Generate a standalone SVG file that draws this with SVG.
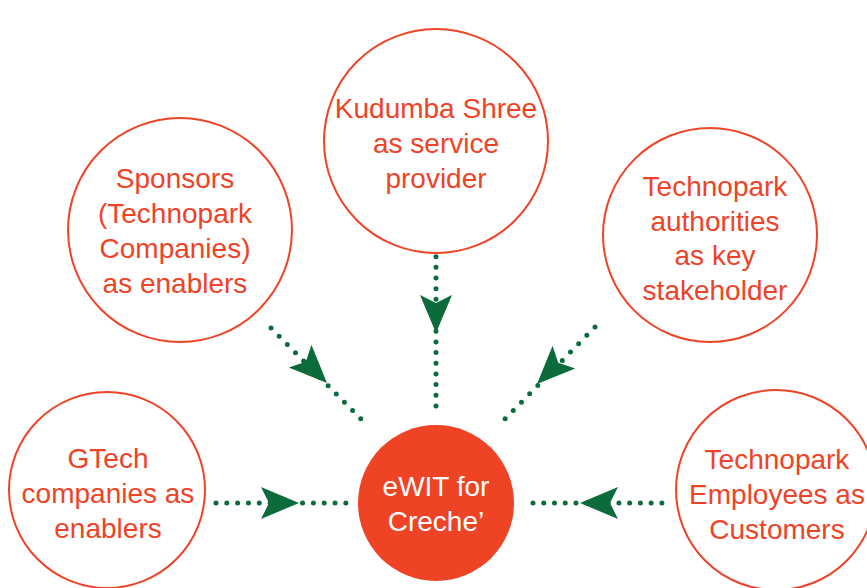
<svg xmlns="http://www.w3.org/2000/svg" width="867" height="588" viewBox="0 0 867 588">
<style>
.ring{fill:#fff;stroke:#ee4327;stroke-width:2}
.lbl{font-family:"Liberation Sans",Arial,sans-serif;font-size:28px;fill:#ee4327;text-anchor:middle}
.wl{fill:#fff}
.dots{fill:none;stroke:#0b6b3a;stroke-width:5;stroke-linecap:round}
.ah{fill:#0b6b3a}
</style>
<defs>
<path id="ah" d="M0,0 L-38,-16 L-30,0 L-38,16 Z"/>
</defs>
<rect width="867" height="588" fill="#fff"/>
<g id="connectors">
<line class="dots" x1="436" y1="246" x2="436" y2="406.5" stroke-dasharray="0 10.66"/>
<use href="#ah" class="ah" transform="translate(436,333) rotate(90)"/>
<line class="dots" x1="271" y1="328" x2="361.5" y2="419.5" stroke-dasharray="0 11.6"/>
<use href="#ah" class="ah" transform="translate(327,383) rotate(45)"/>
<line class="dots" x1="595" y1="327" x2="504.5" y2="419.5" stroke-dasharray="0 11.68"/>
<use href="#ah" class="ah" transform="translate(537,384) rotate(135)"/>
<line class="dots" x1="216" y1="503" x2="346.5" y2="503" stroke-dasharray="0 10.82"/>
<use href="#ah" class="ah" transform="translate(299,503)"/>
<line class="dots" x1="533" y1="503" x2="662.5" y2="503" stroke-dasharray="0 10.74"/>
<use href="#ah" class="ah" transform="translate(580,503) rotate(180)"/>
</g>
<g id="kudumba">
<circle class="ring" cx="436" cy="141" r="112"/>
<text class="lbl" x="436" y="118">Kudumba Shree</text>
<text class="lbl" x="436" y="153">as service</text>
<text class="lbl" x="436" y="188">provider</text>
</g>
<g id="sponsors">
<circle class="ring" cx="180" cy="230" r="112"/>
<text class="lbl" x="175" y="188">Sponsors</text>
<text class="lbl" x="175" y="223">(Technopark</text>
<text class="lbl" x="175" y="258">Companies)</text>
<text class="lbl" x="175" y="293">as enablers</text>
</g>
<g id="authorities">
<circle class="ring" cx="710" cy="235" r="107"/>
<text class="lbl" x="715" y="196">Technopark</text>
<text class="lbl" x="715" y="231">authorities</text>
<text class="lbl" x="715" y="265">as key</text>
<text class="lbl" x="715" y="300">stakeholder</text>
</g>
<g id="gtech">
<circle class="ring" cx="107" cy="490" r="98"/>
<text class="lbl" x="108" y="468">GTech</text>
<text class="lbl" x="108" y="503">companies as</text>
<text class="lbl" x="108" y="538">enablers</text>
</g>
<g id="employees">
<circle class="ring" cx="776" cy="490" r="100"/>
<text class="lbl" x="777" y="469">Technopark</text>
<text class="lbl" x="777" y="504">Employees as</text>
<text class="lbl" x="777" y="539">Customers</text>
</g>
<g id="ewit">
<circle cx="436" cy="503" r="78" fill="#ee4324"/>
<text class="lbl wl" x="436" y="496">eWIT for</text>
<text class="lbl wl" x="436" y="531">Creche’</text>
</g>
</svg>
